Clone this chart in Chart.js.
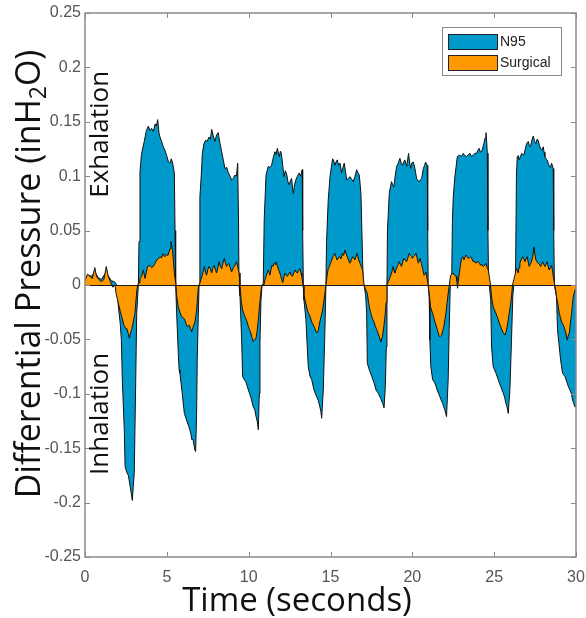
<!DOCTYPE html>
<html>
<head>
<meta charset="utf-8">
<script src="https://cdn.jsdelivr.net/npm/chart.js@4.4.1/dist/chart.umd.min.js"></script>
<style>
  html, body { margin: 0; padding: 0; background: #ffffff; }
  #wrap { width: 586px; height: 618px; position: relative; }
</style>
</head>
<body>
<div id="wrap"><canvas id="c" width="586" height="618"></canvas></div>
<script>
// ---- Data (time in seconds, differential pressure in inH2O) ----
const seriesNames = ['N95', 'Surgical'];
const xTickValues = [0, 5, 10, 15, 20, 25, 30];
const xTickLabels = ['0', '5', '10', '15', '20', '25', '30'];
const yTickValues = [-0.25, -0.2, -0.15, -0.1, -0.05, 0, 0.05, 0.1, 0.15, 0.2, 0.25];
const yTickLabels = ['-0.25', '-0.2', '-0.15', '-0.1', '-0.05', '0', '0.05', '0.1', '0.15', '0.2', '0.25'];

const n95Points = [
  [0,0.006],[0.2,0.009],[0.4,0.008],[0.6,0.012],[0.8,0.007],[1.0,0.005],[1.2,0.01],[1.4,0.009],[1.6,0.004],[1.8,0.003],[1.95,0],
  [2.04,-0.02],[2.15,-0.035],[2.22,-0.05],[2.28,-0.087],[2.4,-0.133],[2.45,-0.167],[2.55,-0.172],[2.65,-0.175],[2.79,-0.188],[2.89,-0.198],[2.95,-0.185],[3.01,-0.173],[3.1,-0.087],[3.16,-0.026],[3.26,0],
  [3.3,0.04],[3.36,0.104],[3.45,0.12],[3.62,0.132],[3.75,0.142],[3.87,0.146],[3.97,0.142],[4.07,0.144],[4.18,0.141],[4.28,0.148],[4.36,0.146],[4.44,0.152],[4.52,0.14],[4.58,0.136],[4.68,0.132],[4.78,0.127],[4.88,0.124],[4.99,0.119],[5.1,0.113],[5.19,0.112],[5.27,0.116],[5.34,0.113],[5.46,0.103],[5.5,0.05],[5.54,0],
  [5.6,-0.026],[5.7,-0.063],[5.75,-0.078],[5.8,-0.081],[5.94,-0.0995],[6.07,-0.118],[6.2,-0.124],[6.34,-0.13],[6.46,-0.136],[6.52,-0.142],[6.6,-0.142],[6.72,-0.152],[6.76,-0.153],[6.82,-0.118],[6.86,-0.066],[6.92,-0.03],[6.97,0],
  [7.02,0.081],[7.1,0.1],[7.17,0.121],[7.27,0.13],[7.37,0.133],[7.47,0.132],[7.57,0.136],[7.66,0.134],[7.74,0.143],[7.84,0.137],[7.94,0.132],[8.04,0.138],[8.14,0.14],[8.25,0.13],[8.35,0.1225],[8.45,0.115],[8.55,0.107],[8.66,0.108],[8.76,0.103],[8.86,0.1],[8.96,0.0965],[9.06,0.098],[9.16,0.101],[9.25,0.1],[9.33,0.112],[9.38,0.06],[9.41,0],
  [9.47,-0.01],[9.57,-0.05],[9.63,-0.084],[9.73,-0.087],[9.83,-0.089],[9.98,-0.0965],[10.13,-0.103],[10.28,-0.112],[10.38,-0.115],[10.45,-0.121],[10.52,-0.125],[10.59,-0.133],[10.65,-0.1],[10.69,-0.053],[10.75,-0.015],[10.82,0],
  [10.89,0],[10.95,0.06],[11.06,0.101],[11.13,0.105],[11.2,0.109],[11.3,0.108],[11.4,0.11],[11.5,0.117],[11.61,0.1225],[11.68,0.12],[11.75,0.1256],[11.87,0.118],[11.94,0.123],[12.0,0.121],[12.08,0.11],[12.16,0.0996],[12.24,0.105],[12.32,0.102],[12.4,0.095],[12.48,0.092],[12.55,0.096],[12.62,0.098],[12.68,0.09],[12.73,0.084],[12.8,0.092],[12.89,0.097],[12.98,0.1],[13.09,0.103],[13.18,0.1],[13.27,0.106],[13.3,0.05],[13.34,0],
  [13.38,-0.014],[13.5,-0.032],[13.58,-0.057],[13.64,-0.075],[13.75,-0.084],[13.85,-0.087],[13.99,-0.0965],[14.11,-0.101],[14.25,-0.106],[14.35,-0.112],[14.41,-0.116],[14.46,-0.1225],[14.56,-0.0965],[14.66,-0.041],[14.72,0],
  [14.76,0.04],[14.86,0.078],[14.97,0.0996],[15.05,0.108],[15.13,0.116],[15.2,0.114],[15.27,0.11],[15.34,0.113],[15.41,0.115],[15.5,0.11],[15.58,0.112],[15.68,0.103],[15.76,0.108],[15.84,0.112],[15.92,0.104],[15.99,0.0965],[16.1,0.098],[16.19,0.0996],[16.3,0.097],[16.39,0.095],[16.5,0.1],[16.6,0.106],[16.68,0.103],[16.76,0.101],[16.86,0.084],[16.95,0.03],[17.0,0],
  [17.05,0],[17.15,-0.01],[17.21,-0.026],[17.25,-0.072],[17.37,-0.078],[17.52,-0.084],[17.66,-0.09],[17.78,-0.0965],[17.92,-0.0995],[18.06,-0.104],[18.19,-0.109],[18.27,-0.113],[18.35,-0.093],[18.41,-0.057],[18.45,0],
  [18.48,0.05],[18.59,0.084],[18.66,0.09],[18.73,0.095],[18.8,0.092],[18.87,0.09],[18.95,0.1],[19.04,0.109],[19.14,0.112],[19.24,0.1164],[19.32,0.112],[19.4,0.11],[19.47,0.113],[19.54,0.115],[19.6,0.112],[19.65,0.109],[19.71,0.115],[19.77,0.121],[19.83,0.113],[19.9,0.107],[19.96,0.112],[20.06,0.113],[20.16,0.107],[20.26,0.098],[20.34,0.096],[20.42,0.095],[20.5,0.097],[20.57,0.098],[20.67,0.107],[20.75,0.11],[20.81,0.113],[20.91,0.11],[20.94,0.05],[20.97,0],
  [21.03,-0.012],[21.07,-0.0505],[21.13,-0.075],[21.24,-0.087],[21.38,-0.09],[21.52,-0.0965],[21.69,-0.103],[21.85,-0.109],[21.99,-0.115],[22.09,-0.121],[22.19,-0.087],[22.25,-0.041],[22.32,0],
  [22.4,0],[22.45,0.06],[22.5,0.081],[22.6,0.0996],[22.75,0.118],[22.9,0.1195],[23.0,0.118],[23.11,0.121],[23.2,0.119],[23.31,0.118],[23.42,0.12],[23.52,0.121],[23.62,0.118],[23.72,0.1195],[23.82,0.121],[23.93,0.121],[24.01,0.124],[24.09,0.1256],[24.16,0.122],[24.23,0.1225],[24.3,0.126],[24.37,0.13],[24.44,0.135],[24.5,0.14],[24.55,0.13],[24.58,0.121],[24.62,0.05],[24.66,0],
  [24.7,0],[24.79,-0.014],[24.84,-0.057],[24.94,-0.075],[25.11,-0.081],[25.25,-0.087],[25.39,-0.093],[25.56,-0.0995],[25.65,-0.104],[25.72,-0.109],[25.8,-0.113],[25.86,-0.118],[25.96,-0.0965],[26.06,-0.0505],[26.14,-0.01],[26.2,0],
  [26.3,0],[26.36,0.1],[26.41,0.118],[26.47,0.119],[26.53,0.115],[26.6,0.118],[26.68,0.121],[26.75,0.12],[26.82,0.1195],[26.9,0.125],[26.98,0.13],[27.08,0.132],[27.15,0.128],[27.22,0.127],[27.3,0.133],[27.39,0.137],[27.47,0.132],[27.55,0.13],[27.62,0.134],[27.69,0.133],[27.77,0.128],[27.84,0.1256],[27.92,0.124],[28.0,0.127],[28.05,0.122],[28.1,0.118],[28.17,0.116],[28.24,0.115],[28.3,0.112],[28.36,0.11],[28.44,0.108],[28.51,0.112],[28.61,0.107],[28.64,0.05],[28.68,0],
  [28.71,0],[28.81,-0.011],[28.87,-0.041],[28.98,-0.057],[29.06,-0.069],[29.18,-0.081],[29.32,-0.084],[29.46,-0.09],[29.55,-0.094],[29.63,-0.0965],[29.72,-0.1],[29.79,-0.106],[29.87,-0.109],[29.93,-0.112],[30,-0.112]
];

const surgicalPoints = [
  [0,0.004],[0.15,0.01],[0.3,0.008],[0.45,0.006],[0.6,0.016],[0.7,0.008],[0.85,0.005],[1.0,0.003],[1.15,0.005],[1.3,0.017],[1.42,0.008],[1.55,0.003],[1.7,-0.002],[1.83,0],
  [1.9,-0.008],[2.04,-0.017],[2.15,-0.024],[2.24,-0.029],[2.38,-0.037],[2.48,-0.04],[2.55,-0.04],[2.65,-0.045],[2.71,-0.049],[2.78,-0.044],[2.85,-0.041],[2.95,-0.034],[3.05,-0.026],[3.16,-0.006],[3.22,0],
  [3.3,0.002],[3.36,0.006],[3.46,0.0077],[3.56,0.0138],[3.67,0.006],[3.75,0.012],[3.82,0.017],[3.97,0.018],[4.07,0.016],[4.17,0.017],[4.28,0.02],[4.38,0.023],[4.48,0.024],[4.58,0.026],[4.68,0.025],[4.78,0.029],[4.88,0.026],[4.99,0.028],[5.06,0.027],[5.13,0.0306],[5.2,0.033],[5.25,0.04],[5.3,0.036],[5.35,0.032],[5.46,0.0107],[5.56,0],
  [5.6,-0.01],[5.7,-0.02],[5.8,-0.025],[5.9,-0.029],[6.0,-0.03],[6.1,-0.032],[6.18,-0.036],[6.25,-0.038],[6.37,-0.037],[6.45,-0.04],[6.52,-0.043],[6.62,-0.038],[6.72,-0.034],[6.82,-0.023],[6.92,-0.003],[6.97,0],
  [7.03,0.002],[7.1,0.006],[7.17,0.009],[7.23,0.013],[7.29,0.017],[7.36,0.012],[7.43,0.009],[7.5,0.014],[7.57,0.017],[7.65,0.015],[7.74,0.011],[7.82,0.016],[7.9,0.018],[7.97,0.014],[8.04,0.011],[8.12,0.016],[8.19,0.0214],[8.27,0.017],[8.35,0.015],[8.43,0.02],[8.51,0.0245],[8.58,0.02],[8.65,0.017],[8.72,0.019],[8.78,0.02],[8.87,0.016],[8.96,0.012],[9.04,0.015],[9.12,0.017],[9.19,0.019],[9.26,0.0214],[9.34,0.016],[9.41,0.011],[9.47,0],
  [9.55,-0.015],[9.63,-0.023],[9.77,-0.029],[9.88,-0.033],[9.98,-0.038],[10.05,-0.041],[10.13,-0.044],[10.2,-0.048],[10.28,-0.052],[10.36,-0.05],[10.45,-0.049],[10.52,-0.042],[10.59,-0.032],[10.66,-0.02],[10.73,-0.009],[10.8,0],
  [10.93,0],[11.0,0.005],[11.06,0.0077],[11.13,0.011],[11.2,0.0138],[11.3,0.009],[11.36,0.014],[11.42,0.018],[11.48,0.017],[11.55,0.02],[11.61,0.019],[11.67,0.0214],[11.74,0.018],[11.81,0.015],[11.88,0.012],[11.95,0.009],[12.02,0.005],[12.08,0.002],[12.15,0.007],[12.22,0.011],[12.29,0.009],[12.36,0.008],[12.44,0.01],[12.52,0.012],[12.6,0.009],[12.68,0.008],[12.75,0.011],[12.83,0.0138],[12.9,0.012],[12.97,0.011],[13.05,0.013],[13.13,0.015],[13.2,0.011],[13.25,0.008],[13.32,0],
  [13.38,-0.008],[13.44,-0.0138],[13.51,-0.018],[13.58,-0.023],[13.66,-0.026],[13.75,-0.029],[13.85,-0.034],[13.92,-0.036],[13.99,-0.038],[14.05,-0.04],[14.11,-0.043],[14.18,-0.044],[14.25,-0.042],[14.35,-0.034],[14.44,-0.028],[14.52,-0.023],[14.6,-0.014],[14.66,-0.0077],[14.72,0],
  [14.79,0.008],[14.86,0.015],[14.93,0.017],[15.0,0.02],[15.08,0.023],[15.15,0.026],[15.2,0.027],[15.25,0.029],[15.33,0.026],[15.4,0.023],[15.48,0.025],[15.56,0.026],[15.64,0.024],[15.72,0.029],[15.8,0.027],[15.88,0.032],[15.95,0.029],[16.02,0.026],[16.1,0.023],[16.19,0.02],[16.27,0.023],[16.35,0.026],[16.42,0.025],[16.49,0.023],[16.56,0.026],[16.63,0.029],[16.7,0.024],[16.8,0.02],[16.88,0.017],[16.96,0.0138],[17.05,0],
  [17.12,-0.003],[17.25,-0.0077],[17.31,-0.014],[17.37,-0.02],[17.45,-0.025],[17.52,-0.029],[17.59,-0.032],[17.66,-0.034],[17.74,-0.038],[17.82,-0.041],[17.9,-0.044],[17.98,-0.0475],[18.03,-0.05],[18.08,-0.052],[18.14,-0.049],[18.19,-0.046],[18.26,-0.038],[18.33,-0.029],[18.4,-0.016],[18.45,0],
  [18.52,0.003],[18.59,0.005],[18.66,0.008],[18.73,0.011],[18.78,0.014],[18.83,0.017],[18.88,0.013],[18.93,0.011],[19.0,0.014],[19.08,0.017],[19.14,0.019],[19.2,0.0214],[19.27,0.019],[19.34,0.017],[19.41,0.021],[19.48,0.0245],[19.56,0.023],[19.65,0.0214],[19.73,0.025],[19.81,0.029],[19.88,0.027],[19.95,0.026],[20.0,0.0245],[20.06,0.026],[20.14,0.027],[20.22,0.029],[20.29,0.025],[20.36,0.02],[20.42,0.022],[20.47,0.0245],[20.55,0.02],[20.63,0.015],[20.71,0.009],[20.77,0.01],[20.83,0.012],[20.9,0.006],[20.97,0],
  [21.03,-0.0077],[21.11,-0.02],[21.17,-0.023],[21.24,-0.026],[21.31,-0.03],[21.38,-0.034],[21.45,-0.037],[21.52,-0.041],[21.58,-0.044],[21.65,-0.0475],[21.72,-0.047],[21.79,-0.046],[21.86,-0.042],[21.93,-0.038],[21.99,-0.032],[22.05,-0.026],[22.12,-0.017],[22.19,-0.0077],[22.26,0],
  [22.34,0.009],[22.42,0.01],[22.5,0.011],[22.58,0.009],[22.67,0.008],[22.72,0.004],[22.76,-0.003],[22.8,0.002],[22.87,0.011],[22.94,0.018],[23.01,0.0245],[23.08,0.026],[23.15,0.023],[23.21,0.025],[23.27,0.0276],[23.35,0.026],[23.42,0.0245],[23.49,0.025],[23.56,0.026],[23.64,0.024],[23.72,0.0214],[23.8,0.022],[23.88,0.02],[23.95,0.021],[24.03,0.0214],[24.1,0.02],[24.17,0.018],[24.25,0.019],[24.33,0.017],[24.42,0.018],[24.5,0.02],[24.57,0.016],[24.64,0.0138],[24.7,0.008],[24.78,0],
  [24.84,-0.011],[24.94,-0.02],[25.02,-0.023],[25.11,-0.026],[25.18,-0.029],[25.25,-0.032],[25.32,-0.035],[25.39,-0.038],[25.47,-0.041],[25.56,-0.044],[25.66,-0.046],[25.73,-0.043],[25.8,-0.038],[25.86,-0.032],[25.92,-0.026],[25.99,-0.019],[26.06,-0.011],[26.12,0],
  [26.2,0.005],[26.27,0.009],[26.32,0.013],[26.37,0.015],[26.42,0.013],[26.47,0.011],[26.52,0.016],[26.57,0.02],[26.65,0.023],[26.74,0.026],[26.81,0.024],[26.88,0.0214],[26.95,0.024],[27.02,0.026],[27.08,0.021],[27.14,0.017],[27.21,0.019],[27.28,0.0214],[27.36,0.026],[27.43,0.035],[27.49,0.028],[27.55,0.023],[27.62,0.021],[27.69,0.02],[27.76,0.019],[27.84,0.017],[27.9,0.019],[27.96,0.0214],[28.03,0.019],[28.1,0.017],[28.17,0.019],[28.24,0.0214],[28.3,0.017],[28.36,0.0138],[28.44,0.016],[28.51,0.018],[28.56,0.013],[28.61,0.008],[28.7,0],
  [28.76,-0.005],[28.81,-0.011],[28.9,-0.018],[28.98,-0.026],[29.05,-0.03],[29.12,-0.034],[29.19,-0.036],[29.26,-0.038],[29.32,-0.041],[29.38,-0.044],[29.46,-0.0505],[29.52,-0.047],[29.59,-0.044],[29.66,-0.035],[29.73,-0.026],[29.78,-0.018],[29.83,-0.011],[29.93,-0.005],[30,-0.003]
];

// ---- Styles ----
const N95_FILL = '#0099cc';
const SURG_FILL = '#ff9900';
const AXIS_GRAY = '#8a8a8a';
const TITLE_FONT = '"Open Sans", "Noto Sans", sans-serif';
const TICK_FONT = '"Liberation Sans", Arial, sans-serif';

const toXY = pts => pts.map(p => ({ x: p[0], y: p[1] }));

// Axes box, inward ticks and zero baseline (MATLAB style)
const framePlugin = {
  id: 'frame',
  afterDatasetsDraw(chart) {
    const { ctx, chartArea: ca, scales } = chart;
    const xs = scales.x, ys = scales.y;
    ctx.save();
    const y0 = Math.round(ys.getPixelForValue(0)) + 0.5;
    ctx.strokeStyle = '#1a1a1a';
    ctx.lineWidth = 1;
    ctx.beginPath();
    ctx.moveTo(ca.left, y0); ctx.lineTo(ca.right, y0);
    ctx.stroke();
    ctx.strokeStyle = AXIS_GRAY;
    ctx.lineWidth = 1.5;
    ctx.strokeRect(ca.left, ca.top, ca.right - ca.left, ca.bottom - ca.top);
    const tl = 5;
    ctx.lineWidth = 1;
    ctx.beginPath();
    xTickValues.forEach(v => {
      const px = Math.round(xs.getPixelForValue(v)) + 0.5;
      ctx.moveTo(px, ca.bottom); ctx.lineTo(px, ca.bottom - tl);
      ctx.moveTo(px, ca.top); ctx.lineTo(px, ca.top + tl);
    });
    yTickValues.forEach(v => {
      const py = Math.round(ys.getPixelForValue(v)) + 0.5;
      ctx.moveTo(ca.left, py); ctx.lineTo(ca.left + tl, py);
      ctx.moveTo(ca.right, py); ctx.lineTo(ca.right - tl, py);
    });
    ctx.stroke();
    ctx.restore();
  },
  afterDraw(chart) {
    const { ctx, chartArea: ca, scales } = chart;
    const ys = scales.y;
    ctx.save();
    // ---- Legend box (inside plot, upper right) ----
    const bw = 119, bh = 48;
    const bx = ca.right - 15 - bw, by = ca.top + 14;
    ctx.fillStyle = '#ffffff';
    ctx.fillRect(bx, by, bw, bh);
    ctx.strokeStyle = '#888888';
    ctx.lineWidth = 1;
    ctx.strokeRect(bx + 0.5, by + 0.5, bw, bh);
    const entries = [[seriesNames[0], N95_FILL], [seriesNames[1], SURG_FILL]];
    entries.forEach((e, i) => {
      const sy = by + 7 + i * 21;
      ctx.fillStyle = e[1];
      ctx.fillRect(bx + 6, sy, 50, 15);
      ctx.strokeStyle = '#222';
      ctx.strokeRect(bx + 6.5, sy + 0.5, 49, 15);
      ctx.fillStyle = '#222';
      ctx.font = '14px ' + TICK_FONT;
      ctx.textBaseline = 'middle';
      ctx.textAlign = 'left';
      ctx.fillText(e[0], bx + 58, sy + 8);
    });

    // ---- In-plot annotations ----
    ctx.fillStyle = '#111';
    ctx.font = '26px ' + TITLE_FONT;
    ctx.textAlign = 'center';
    ctx.textBaseline = 'alphabetic';
    const annot = [['Exhalation', 0.1385], ['Inhalation', -0.1185]];
    annot.forEach(a => {
      ctx.save();
      ctx.translate(ca.left + 23, ys.getPixelForValue(a[1]));
      ctx.rotate(-Math.PI / 2);
      ctx.fillText(a[0], 0, 0);
      ctx.restore();
    });

    // ---- X axis title ----
    ctx.font = '33px ' + TITLE_FONT;
    ctx.textAlign = 'center';
    ctx.fillText('Time (seconds)', 297, 611);

    // ---- Y axis title with subscript ----
    const big = '34px ' + TITLE_FONT, small = '23px ' + TITLE_FONT;
    const p1 = 'Differential Pressure (inH', p2 = '2', p3 = 'O)';
    ctx.font = big; const w1 = ctx.measureText(p1).width; const w3 = ctx.measureText(p3).width;
    ctx.font = small; const w2 = ctx.measureText(p2).width;
    const total = w1 + w2 + w3;
    ctx.save();
    ctx.translate(40, 274 + total / 2);
    ctx.rotate(-Math.PI / 2);
    ctx.textAlign = 'left';
    ctx.font = big; ctx.fillText(p1, 0, 0);
    ctx.font = small; ctx.fillText(p2, w1, 6);
    ctx.font = big; ctx.fillText(p3, w1 + w2, 0);
    ctx.restore();
    ctx.restore();
  }
};

new Chart(document.getElementById('c'), {
  type: 'line',
  data: {
    datasets: [
      { label: seriesNames[0], data: toXY(n95Points), backgroundColor: N95_FILL, borderColor: '#111',
        borderWidth: 1, fill: 'origin', pointRadius: 0, tension: 0, order: 2 },
      { label: seriesNames[1], data: toXY(surgicalPoints), backgroundColor: SURG_FILL, borderColor: '#111',
        borderWidth: 1, fill: 'origin', pointRadius: 0, tension: 0, order: 1 }
    ]
  },
  options: {
    responsive: false,
    animation: false,
    layout: { padding: { top: 13, right: 10, left: 0, bottom: 0 } },
    plugins: { legend: { display: false }, tooltip: { enabled: false } },
    scales: {
      x: {
        type: 'linear', min: 0, max: 30,
        afterBuildTicks: s => { s.ticks = xTickValues.map(v => ({ value: v })); },
        afterFit: s => { s.height = 61; s.paddingLeft = 0; s.paddingRight = 0; },
        grid: { display: false, drawTicks: false },
        border: { display: false },
        ticks: { callback: (v, i) => xTickLabels[i], color: '#555555', padding: 11, maxRotation: 0,
                 font: { family: TICK_FONT, size: 16 } }
      },
      y: {
        type: 'linear', min: -0.25, max: 0.25,
        afterBuildTicks: s => { s.ticks = yTickValues.map(v => ({ value: v })); },
        afterFit: s => { s.width = 85; s.paddingTop = 0; s.paddingBottom = 0; },
        grid: { display: false, drawTicks: false },
        border: { display: false },
        ticks: { callback: (v, i) => yTickLabels[i], color: '#555555', padding: 4,
                 font: { family: TICK_FONT, size: 16 } }
      }
    }
  },
  plugins: [framePlugin]
});
</script>
</body>
</html>
